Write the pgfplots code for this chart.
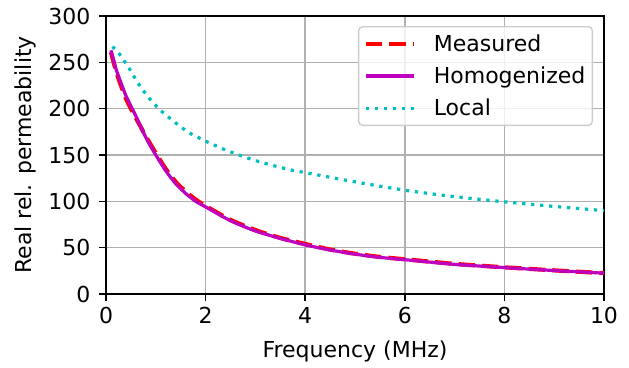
\documentclass[border=0pt]{standalone}
\usepackage{pgfplots}
\pgfplotsset{compat=1.18}
\usepackage{fontspec}
\setmainfont{DejaVu Sans}
\usetikzlibrary{calc}
\definecolor{mred}{rgb}{1,0,0}
\definecolor{mmag}{rgb}{0.75,0,0.75}
\definecolor{mcyan}{rgb}{0,0.75,0.75}
\definecolor{mgrid}{rgb}{0.69,0.69,0.69}
\begin{document}
\begin{tikzpicture}
\begin{axis}[
  scale only axis,
  width=498pt, height=278pt,
  xmin=0, xmax=10, ymin=0, ymax=300,
  xtick={0,2,4,6,8,10}, ytick={0,50,100,150,200,250,300},
  tick pos=left,
  grid=major,
  major grid style={color=mgrid, line width=1.6pt},
  axis line style={line width=1.6pt},
  tick style={black, line width=1.6pt},
  tick align=outside,
  major tick length=7pt,
  font=\fontsize{22}{26}\selectfont,
  tick label style={font=\fontsize{22}{26}\selectfont},
  xticklabel style={yshift=-3pt},
  yticklabel style={xshift=-5pt},
  /pgf/number format/assume math mode=true,
  xlabel={Frequency (MHz)},
  ylabel={Real rel. permeability},
  xlabel style={yshift=-10pt},
  ylabel style={yshift=6pt},
  legend image code/.code={\draw[#1] (0pt,0pt) -- (48pt,0pt);},
  legend cell align=left,
  legend style={at={(0.978,0.964)}, anchor=north east, draw=black!20, line width=1.4pt,
    rounded corners=4pt, fill=white, fill opacity=0.8, text opacity=1, draw opacity=1,
    font=\fontsize{22}{26}\selectfont, row sep=10pt, inner xsep=5pt, inner ysep=6pt,
    /tikz/every odd column/.append style={column sep=16pt}},
]
\addplot[mred, line width=4.2pt, dash pattern=on 16.5pt off 7pt, smooth, tension=0.4] coordinates {
(0.1,261) (0.2,241) (0.3,225) (0.4,211) (0.5,200) (0.6,190) (0.7,180) (0.8,170)
(0.9,161) (1.0,152) (1.2,135) (1.4,121) (1.6,110.5) (1.8,102) (2.0,95) (2.5,80)
(3.0,69) (3.5,60.5) (4.0,54) (4.5,48) (5.0,43.5) (5.5,40) (6.0,37.5) (7.0,32.5)
(8.0,28.8) (9.0,25.5) (10.0,22.5)};
\addlegendentry{Measured}
\addplot[mmag, line width=3.2pt, smooth, tension=0.4] coordinates {
(0.1,263) (0.2,243) (0.3,228) (0.4,214) (0.5,203) (0.6,192) (0.7,180) (0.8,169)
(0.9,159) (1.0,150) (1.2,133) (1.4,119) (1.6,108.5) (1.8,100) (2.0,94) (2.5,79)
(3.0,68) (3.5,60) (4.0,53) (4.5,47.5) (5.0,43) (5.5,39.5) (6.0,37) (7.0,32)
(8.0,28.5) (9.0,25.3) (10.0,22.5)};
\addlegendentry{Homogenized}
\addplot[mcyan, line width=3.2pt, dash pattern=on 3.3pt off 5.7pt, smooth, tension=0.4] coordinates {
(0.13,267) (0.27,259) (0.47,243) (0.65,227) (0.87,211) (1.1,198) (1.39,185)
(1.67,174) (2.0,165) (2.33,157) (2.67,150) (3.0,144) (3.33,139) (3.7,134)
(4.0,131) (5.0,121) (6.0,112) (7.0,105) (8.0,99.5) (9.0,94.5) (10.0,90)};
\addlegendentry{Local}
\end{axis}
\pgfresetboundingbox
\path ($(current axis.south west)+(-106pt,-73pt)$) rectangle ($(current axis.north east)+(25pt,16pt)$);
\end{tikzpicture}
\end{document}
